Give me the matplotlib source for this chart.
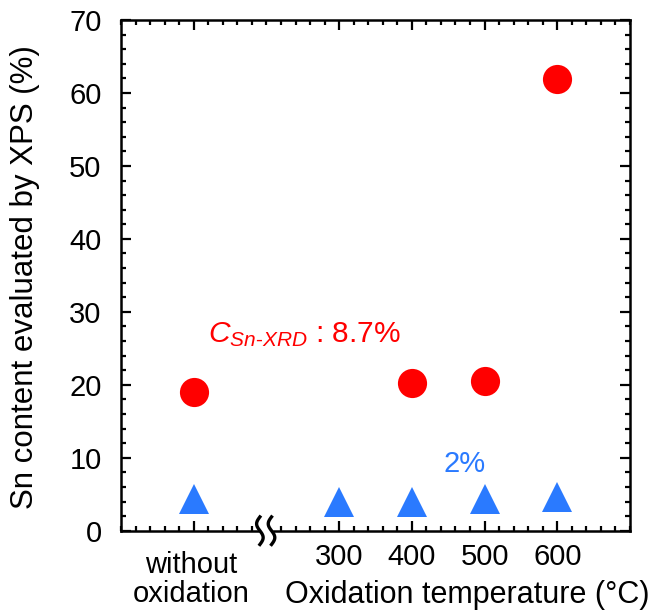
import numpy as np
import matplotlib
matplotlib.use("Agg")
import matplotlib.pyplot as plt
from matplotlib.ticker import MultipleLocator, FixedLocator

plt.rcParams['font.family'] = ['Liberation Sans', 'DejaVu Sans']
plt.rcParams['mathtext.fontset'] = 'custom'
plt.rcParams['mathtext.it'] = 'Liberation Sans:italic'
plt.rcParams['mathtext.rm'] = 'Liberation Sans'

# "without oxidation" se dibuja en x=100, luego las temperaturas reales
temp_xrd = [100, 400, 500, 600]
sn_xrd = [19.0, 20.2, 20.5, 61.9]
temp_2 = [100, 300, 400, 500, 600]
sn_2 = [4.4, 4.0, 4.0, 4.4, 4.6]
xtick_pos = [100, 300, 400, 500, 600]
xtick_labels = ["", "300", "400", "500", "600"]

rojo = "#ff0000"
azul = "#2a7aff"
W, H = 656, 612

fig = plt.figure(figsize=(W / 100, H / 100), dpi=100)
ax = fig.add_axes([121 / W, 1 - 530.7 / H, 509 / W, 510.7 / H])

ax.plot(temp_xrd, sn_xrd, "o", color=rojo, markersize=21, markeredgewidth=0, zorder=3)
ax.plot(temp_2, sn_2, "^", color=azul, markersize=21, markeredgewidth=0, zorder=3)

ax.set_xlim(0, 700)
ax.set_ylim(0, 70)
ax.xaxis.set_major_locator(FixedLocator(xtick_pos))
ax.set_xticklabels(xtick_labels)
ax.xaxis.set_minor_locator(MultipleLocator(20))
ax.yaxis.set_major_locator(MultipleLocator(10))
ax.yaxis.set_minor_locator(MultipleLocator(2))

ax.tick_params(which="both", direction="in", top=True, right=True, width=1.6)
ax.tick_params(which="major", length=7, labelsize=21)
ax.tick_params(which="minor", length=3.5)
ax.tick_params(axis="x", which="major", pad=9)
ax.tick_params(axis="y", which="major", pad=14)
for s in ax.spines.values():
    s.set_linewidth(1.8)

# etiquetas de ejes colocadas a mano
fig.text(25 / W, 1 - 277.5 / H, "Sn content evaluated by XPS (%)", fontsize=22.5,
         rotation=90, ha="center", va="center")
fig.text(467 / W, 1 - 603 / H, "Oxidation temperature (\u00b0C)", fontsize=22,
         ha="center", va="baseline")
fig.text(191 / W, 1 - 551 / H, "without\noxidation", fontsize=21,
         ha="center", va="top", linespacing=1.05)

ax.text(119.5, 25.9, r"$C_{Sn\text{-}XRD}$ : 8.7%", color=rojo, fontsize=21.5,
        ha="left", va="baseline")
ax.text(472, 8.05, "2%", color=azul, fontsize=21, ha="center", va="baseline")

# marca de corte del eje x
tr = ax.get_xaxis_transform()
t = np.linspace(-1, 1, 40)
ax.fill_between([191, 207], -0.03, 0.03, color="white", transform=tr, clip_on=False, zorder=5)
for x0 in (191, 207):
    ax.plot(x0 - 4.5 * np.sin(t * np.pi), t * 0.027, color="black", lw=2.4,
            transform=tr, clip_on=False, zorder=6)

fig.savefig("out.png", dpi=100)
